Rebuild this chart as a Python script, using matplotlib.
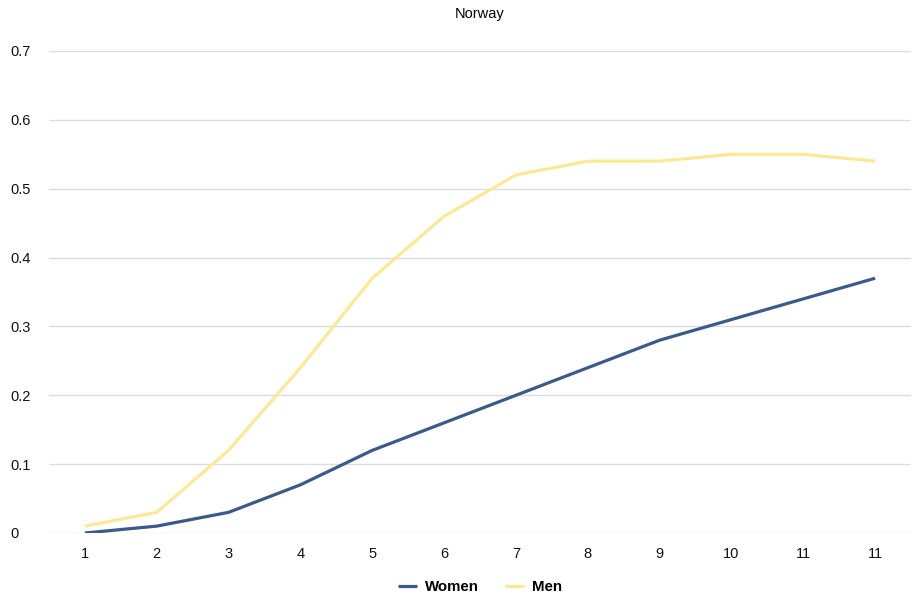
import matplotlib
matplotlib.use("Agg")
import matplotlib.pyplot as plt

# Norway series, one value per period
tick_labels = ["1", "2", "3", "4", "5", "6", "7", "8", "9", "10", "11", "11"]
women = [0.0, 0.01, 0.03, 0.07, 0.12, 0.16, 0.20, 0.24, 0.28, 0.31, 0.34, 0.37]
men = [0.01, 0.03, 0.12, 0.24, 0.37, 0.46, 0.52, 0.54, 0.54, 0.55, 0.55, 0.54]

plt.rcParams['font.family'] = ['Liberation Sans', 'DejaVu Sans']

fig = plt.figure(figsize=(9.16, 6.04), dpi=100)
ax = fig.add_axes([49 / 916, (604 - 533) / 604, (911 - 49) / 916, (533 - 51) / 604])

x = list(range(1, len(tick_labels) + 1))
ax.plot(x, women, color="#3b5a88", lw=2.3, label="Women", solid_capstyle="butt")
ax.plot(x, men, color="#fce996", lw=2.3, label="Men", solid_capstyle="butt")

ax.set_xlim(0.5, len(tick_labels) + 0.5)
ax.set_ylim(0, 0.7)
ax.set_xticks(x)
ax.set_xticklabels(tick_labels)
ax.set_yticks([0, 0.1, 0.2, 0.3, 0.4, 0.5, 0.6, 0.7])
ax.set_yticklabels(["0", "0.1", "0.2", "0.3", "0.4", "0.5", "0.6", "0.7"])
ax.tick_params(length=0, labelsize=10.5, colors="#111111")
ax.tick_params(axis="x", pad=10)
ax.tick_params(axis="y", pad=28)
for lbl in ax.get_yticklabels():
    lbl.set_horizontalalignment("left")

ax.grid(axis="y", color="#dddddd", lw=1)
ax.set_axisbelow(True)
for s in ax.spines.values():
    s.set_visible(False)

# title and legend centred over the plotting area
mid = (49 + 911) / 2 / 916
fig.text(mid, 1 - 14 / 604, "Norway", ha="center", va="center", fontsize=10.5)
fig.legend(loc="center", bbox_to_anchor=(mid, 1 - 587 / 604), ncol=2, frameon=False,
           prop={"weight": "bold", "size": 10.8}, handlelength=1.3, handletextpad=0.55,
           columnspacing=1.7)

fig.savefig("out.png", dpi=100)
